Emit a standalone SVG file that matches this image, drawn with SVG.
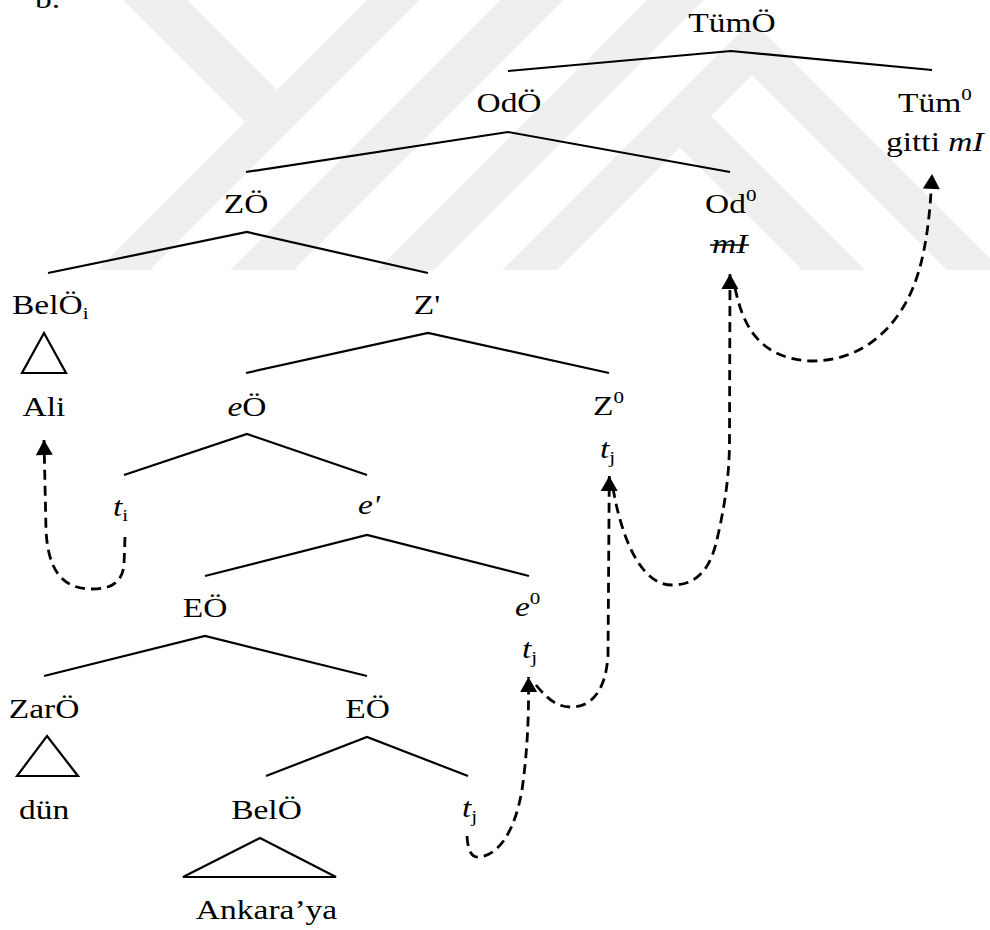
<svg xmlns="http://www.w3.org/2000/svg" width="990" height="930" viewBox="0 0 990 930">
<style>
.t{font-family:"Liberation Serif","Times New Roman",serif;font-size:27px;fill:#000}
.m{text-anchor:middle}
.i{font-style:italic}
.s{font-size:17px;font-style:normal}
.e{fill:none;stroke:#000;stroke-width:2.2;stroke-linejoin:miter}
.tri{fill:none;stroke:#000;stroke-width:2.2;stroke-linejoin:miter}
.mv{fill:none;stroke:#000;stroke-width:2.8;stroke-dasharray:10 6}
.wm{fill:#efefef}
</style>
<defs>
<marker id="ah" markerUnits="userSpaceOnUse" viewBox="-16 -10 20 20" markerWidth="20" markerHeight="20" refX="0" refY="0" orient="auto">
<path d="M0,0 L-15,-8.5 L-15,8.5 Z" fill="#000"/>
</marker>
</defs>
<rect width="990" height="930" fill="#fff"/>
<g id="watermark">
<polygon class="wm" points="123,0 187,0 277,90 245,122"/>
<polygon class="wm" points="367,0 420,0 150,270 97,270"/>
<polygon class="wm" points="500,0 564,0 294,270 230,270"/>
<polygon class="wm" points="647,0 704,0 434,270 377,270"/>
<polygon class="wm" points="752,20 1002,270 947,270 752,75 557,270 502,270"/>
<polygon class="wm" points="679.5,147.5 711,116 865,270 802,270"/>
</g>
<g id="connectors">
<polyline class="e" points="508,71 731,51 932,70"/>
<polyline class="e" points="246,172 508,132 730,172"/>
<polyline class="e" points="48,273 247,232 428,273"/>
<polyline class="e" points="246,373 428,333 609,373"/>
<polyline class="e" points="124,475 247,434 367,475"/>
<polyline class="e" points="205,576 367,535 529,576"/>
<polyline class="e" points="44,676 205,636 367,676"/>
<polyline class="e" points="266,776 367,737 468,776"/>
<path class="mv" d="M125,537 L124,565 C122,585 108,589 92,589 C62,589 48,570 46,530 L44,440" marker-end="url(#ah)"/>
<path class="mv" d="M467,836 C468,855 474,858 480,857 C500,854 515,830 522,790 C527,755 529,720 528.5,677" marker-end="url(#ah)"/>
<path class="mv" d="M536,685 C548,700 558,707 571,707 C592,707 606,690 608,655 L609.3,476" marker-end="url(#ah)"/>
<path class="mv" d="M613,488 C620,530 638,585 672,585 C700,585 712,565 718,535 C726,500 729.5,470 729.5,440 L730,274" marker-end="url(#ah)"/>
<path class="mv" d="M735,288 C742,320 755,358 810,361 C860,362 895,330 912,290 C925,260 930,220 932,174" marker-end="url(#ah)"/>
</g>
<g id="label-b"><text class="t" transform="translate(35,8) scale(1.24,1)">b.</text></g>
<g id="TumO"><text class="t m" transform="translate(732,32) scale(1.24,1)">TümÖ</text></g>
<g id="OdO"><text class="t m" transform="translate(509,112) scale(1.24,1)">OdÖ</text></g>
<g id="Tum0">
<text class="t" transform="translate(898,112) scale(1.24,1)">Tüm<tspan class="s" dy="-12">0</tspan></text>
<text class="t" transform="translate(886,151) scale(1.24,1)">gitti <tspan class="i">mI</tspan></text>
</g>
<g id="ZO"><text class="t m" transform="translate(246,213) scale(1.24,1)">ZÖ</text></g>
<g id="Od0">
<text class="t" transform="translate(705,213) scale(1.24,1)">Od<tspan class="s" dy="-12">0</tspan></text>
<text class="t i" transform="translate(712,253) scale(1.24,1)">mI</text>
<line x1="710" y1="245" x2="749" y2="245" stroke="#000" stroke-width="1.6"/>
</g>
<g id="BelOi">
<text class="t" transform="translate(12,314) scale(1.24,1)">BelÖ<tspan class="s" dy="5">i</tspan></text>
<polygon class="tri" points="44,333 66,373 22,373"/>
<text class="t m" transform="translate(44,416) scale(1.24,1)">Ali</text>
</g>
<g id="Zbar"><text class="t m" transform="translate(427,314) scale(1.24,1)">Z'</text></g>
<g id="eO"><text class="t m" transform="translate(247,416) scale(1.24,1)"><tspan class="i">e</tspan>Ö</text></g>
<g id="Z0">
<text class="t" transform="translate(593,415) scale(1.24,1)">Z<tspan class="s" dy="-12">0</tspan></text>
<text class="t" transform="translate(600,458) scale(1.24,1)"><tspan class="i">t</tspan><tspan class="s" dy="5">j</tspan></text>
</g>
<g id="ti"><text class="t" transform="translate(113,516) scale(1.24,1)"><tspan class="i">t</tspan><tspan class="s" dy="5">i</tspan></text></g>
<g id="ebar"><text class="t i" transform="translate(358,514) scale(1.24,1)">e'</text></g>
<g id="EO1"><text class="t m" transform="translate(205,617) scale(1.24,1)">EÖ</text></g>
<g id="e0">
<text class="t" transform="translate(515,616) scale(1.24,1)"><tspan class="i">e</tspan><tspan class="s" dy="-12">0</tspan></text>
<text class="t" transform="translate(522,658) scale(1.24,1)"><tspan class="i">t</tspan><tspan class="s" dy="5">j</tspan></text>
</g>
<g id="ZarO">
<text class="t m" transform="translate(44,718) scale(1.24,1)">ZarÖ</text>
<polygon class="tri" points="47,736 78,776 17,776"/>
<text class="t m" transform="translate(44,819) scale(1.24,1)">dün</text>
</g>
<g id="EO2"><text class="t m" transform="translate(367.5,718) scale(1.24,1)">EÖ</text></g>
<g id="BelO">
<text class="t m" transform="translate(266.5,819) scale(1.24,1)">BelÖ</text>
<polygon class="tri" points="260,838 336,877 183,877"/>
<text class="t m" transform="translate(266.5,919) scale(1.24,1)">Ankara’ya</text>
</g>
<g id="tj-low"><text class="t" transform="translate(462,817) scale(1.24,1)"><tspan class="i">t</tspan><tspan class="s" dy="5">j</tspan></text></g>
</svg>
